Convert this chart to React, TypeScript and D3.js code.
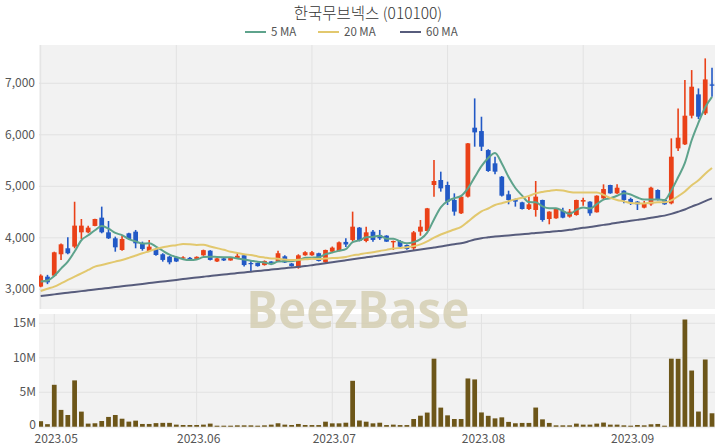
import React from 'react';
import * as d3 from 'd3';

// ---- data ----
const opens = [3052,3245,3265,3680,3796,3828,4106,4106,4230,4391,4106,3990,3763,4087,4119,3893,3744,3783,3680,3634,
  3620,3600,3610,3590,3660,3750,3540,3600,3560,3600,3660,3510,3510,3470,3540,3550,3640,3500,3420,3660,
  3660,3700,3524,3731,3740,3920,3958,4197,3938,4119,4055,4042,3912,3938,3860,3796,4119,4132,5025,5122,
  5025,4734,4475,4799,6138,6073,5704,5446,5187,4844,4754,4689,4559,4540,4734,4365,4378,4520,4411,4443,
  4702,4702,4495,4766,5025,4863,4915,4754,4702,4585,4650,4928,4734,4669,5737,5814,6371,6785,6416,6979];
const highs = [3290,3280,3730,3890,4010,4700,4365,4236,4370,4605,4326,4022,4042,4100,4152,3925,3958,3796,3700,3647,
  3640,3640,3625,3640,3770,3760,3610,3610,3615,3700,3680,3570,3520,3560,3545,3750,3660,3510,3680,3740,
  3745,3710,3770,3830,3930,3990,4508,4210,4216,4152,4152,4050,3945,3958,3870,4132,4346,4580,5510,5284,
  5090,4863,4810,5840,6707,6351,5720,5575,5200,4915,4760,4700,4799,5103,4740,4515,4580,4585,4559,4740,
  4779,4710,4825,5038,5030,5038,4925,4779,4714,4714,4993,4940,4740,5931,6513,7063,7257,6901,7484,7303];
const lows = [3040,3100,3245,3570,3680,3796,3977,4087,4225,4087,3977,3730,3750,3958,3796,3750,3730,3653,3537,3485,
  3530,3590,3560,3580,3650,3560,3530,3550,3555,3595,3440,3340,3440,3460,3470,3540,3510,3440,3400,3650,
  3650,3540,3500,3720,3735,3820,3925,3930,3912,3925,3958,3920,3763,3796,3770,3763,4040,4125,4799,4896,
  4637,4430,4460,4780,5769,5685,5280,5232,4800,4650,4605,4550,4540,4411,4313,4262,4370,4378,4391,4430,
  4624,4430,4490,4754,4855,4850,4669,4637,4540,4572,4624,4725,4640,4650,5685,5801,6319,6306,6384,6740];
const closes = [3265,3135,3718,3873,3699,4236,4236,4197,4365,4106,3990,3815,3977,3977,3893,3783,3828,3666,3570,3524,
  3540,3620,3580,3630,3760,3570,3600,3560,3610,3650,3470,3490,3450,3550,3500,3700,3520,3450,3660,3720,
  3720,3550,3763,3809,3912,3870,4216,3938,4106,3958,3990,3925,3938,3828,3783,4106,4216,4572,5103,4960,
  4702,4508,4799,5834,6047,5769,5297,5284,4818,4734,4702,4559,4650,4799,4346,4508,4572,4391,4508,4734,
  4734,4475,4818,4947,4863,4973,4734,4689,4650,4669,4973,4734,4650,5575,5944,6371,6934,6351,7076,6953];
// volume in millions of shares
const volumes = [0.8,0.37,6.08,2.44,1.7,6.72,2.19,0.45,0.5,0.83,1.42,1.7,1.16,0.74,0.88,0.4,0.4,0.52,0.56,0.56,
  0.3,0.25,0.25,0.25,0.3,0.45,0.15,0.15,0.15,0.2,0.2,0.2,0.15,0.2,0.3,0.5,0.3,0.25,0.4,0.25,
  0.24,0.24,0.73,0.49,0.49,0.58,6.66,0.9,0.73,0.49,0.58,0.24,0.3,0.24,0.24,1.12,1.6,2.05,9.87,2.77,
  1.65,1.12,1.12,7.0,6.86,2.07,1.58,1.21,1.36,0.7,0.5,0.55,0.55,2.78,1.07,0.55,0.2,0.2,0.2,0.45,
  0.3,0.3,0.45,0.6,0.3,0.3,0.2,0.15,0.25,0.2,0.35,0.4,0.15,9.87,9.85,15.55,8.15,2.2,9.75,1.95];
// moving-average values before a full window of closes is available
const ma5Head = [3150, 3170, 3260, 3400];
const ma20Head = [2968,3010,3052,3115,3181,3245,3310,3375,3440,3472,3505,3537,3569,3610,3655,3699,3740,3783,3815];
const ma60Head = [2870,2886,2901,2917,2932,2948,2964,2979,2995,3010,3026,3042,3057,3073,3088,3104,3120,3135,3151,3166,
  3182,3198,3213,3229,3244,3260,3273,3287,3300,3314,3328,3341,3355,3368,3382,3396,3409,3423,3436,3450,
  3468,3487,3506,3525,3544,3563,3582,3601,3620,3639,3658,3677,3696,3715,3734,3753,3772,3791,3810];
const priceTicks = [3000, 4000, 5000, 6000, 7000];
const volumeTicks = [0, 5, 10, 15];
const monthLabels = ['2023.05', '2023.06', '2023.07', '2023.08', '2023.09'];
const monthStartIndex = [2, 23, 43, 65, 87];
const priceGridIndex = [0, 20, 40, 60, 80];
const legendNames = ['5 MA', '20 MA', '60 MA'];

const UP = '#ea4118';
const DOWN = '#2259c6';
const MA_COLORS = ['#5ea38c', '#e2c86e', '#575c7c'];
const VOL = '#6d5619';
const FONT = '"Noto Sans CJK KR", "Noto Sans", sans-serif';

function movingAverage(period: number, head: number[]): number[] {
  return closes.map((_, i) => (i < period - 1 ? head[i] : (d3.mean(closes.slice(i - period + 1, i + 1)) as number)));
}

export default function App() {
  const W = 720, H = 448;
  const left = 39, right = 715;
  const pTop = 45, pBot = 309;
  const vTop = 314, vBot = 428.3;

  const x = d3.scaleLinear().domain([-0.25, 99.44]).range([left, right]);
  const yP = d3.scaleLinear().domain([2617, 7744]).range([pBot, pTop]);
  const yV = d3.scaleLinear().domain([-0.23, 16.35]).range([vBot, vTop]);
  const bw = (x(1) - x(0)) * 0.7;

  const mas = [movingAverage(5, ma5Head), movingAverage(20, ma20Head), movingAverage(60, ma60Head)];
  const line = d3.line<number>().x((_, i) => x(i)).y((d) => yP(d)).curve(d3.curveMonotoneX);
  const fmt = d3.format(',');

  const legendX = [245, 318, 400];

  return (
    <svg width={W} height={H} style={{ position: 'absolute', left: 0, top: 0, display: 'block', background: '#fff' }}
      fontFamily={FONT}>
      <defs>
        <clipPath id="pclip"><rect x={left} y={pTop} width={right - left} height={pBot - pTop} /></clipPath>
        <clipPath id="vclip"><rect x={left} y={vTop} width={right - left} height={vBot - vTop} /></clipPath>
      </defs>
      <text x={368} y={19} textAnchor="middle" fontSize={15.5} fill="#333" fontWeight={300}>한국무브넥스 (010100)</text>
      {legendNames.map((n, k) => (
        <g key={n}>
          <line x1={legendX[k]} x2={legendX[k] + 21} y1={32} y2={32} stroke={MA_COLORS[k]} strokeWidth={2} />
          <text x={legendX[k] + 26} y={36} fontSize={11.5} fill="#555">{n}</text>
        </g>
      ))}

      {/* price panel */}
      <rect x={left} y={pTop} width={right - left} height={pBot - pTop} fill="#f2f2f2" />
      {priceTicks.map((t) => (
        <line key={t} x1={left} x2={right} y1={yP(t)} y2={yP(t)} stroke="#e2e2e2" strokeWidth={1} />
      ))}
      {priceGridIndex.map((i) => (
        <line key={i} x1={x(i)} x2={x(i)} y1={pTop} y2={pBot} stroke="#e2e2e2" strokeWidth={1} />
      ))}
      {priceTicks.map((t) => (
        <text key={t} x={35} y={yP(t) + 4} textAnchor="end" fontSize={12} fill="#555">{fmt(t)}</text>
      ))}
      <g clipPath="url(#pclip)">
        {closes.map((c, i) => {
          const o = opens[i];
          const col = c >= o ? UP : DOWN;
          const top = yP(Math.max(o, c));
          const bot = yP(Math.min(o, c));
          return (
            <g key={i}>
              <line x1={x(i)} x2={x(i)} y1={yP(highs[i])} y2={yP(lows[i])} stroke={col} strokeWidth={1.6} />
              <rect x={x(i) - bw / 2} y={top} width={bw} height={Math.max(1.2, bot - top)} fill={col} />
            </g>
          );
        })}
        {mas.map((m, k) => (
          <path key={k} d={line(m) || ''} fill="none" stroke={MA_COLORS[k]} strokeWidth={2} />
        ))}
      </g>

      {/* volume panel */}
      <rect x={left} y={vTop} width={right - left} height={vBot - vTop} fill="#f2f2f2" />
      {volumeTicks.map((t) => (
        <line key={t} x1={left} x2={right} y1={yV(t)} y2={yV(t)} stroke="#e2e2e2" strokeWidth={1} />
      ))}
      {monthStartIndex.map((i) => (
        <line key={i} x1={x(i)} x2={x(i)} y1={vTop} y2={vBot} stroke="#e2e2e2" strokeWidth={1} />
      ))}
      {volumeTicks.map((t) => (
        <text key={t} x={36} y={yV(t) + (t === 0 ? 2 : 4)} textAnchor="end" fontSize={12} fill="#555">{t === 0 ? '0' : `${t}M`}</text>
      ))}
      <g clipPath="url(#vclip)">
        {volumes.map((v, i) => (
          <rect key={i} x={x(i) - bw / 2} y={yV(v)} width={bw} height={yV(0) - yV(v)} fill={VOL} />
        ))}
      </g>
      {monthStartIndex.map((i, k) => (
        <text key={i} x={x(i) + 2} y={443} textAnchor="middle" fontSize={12} fill="#555">{monthLabels[k]}</text>
      ))}

      {/* watermark */}
      <text x={358} y={328} textAnchor="middle" fontSize={52} fontWeight="bold" fill="#d4cdaf" opacity={0.8}
        fontFamily='"Noto Sans", sans-serif' textLength={223} lengthAdjust="spacingAndGlyphs">BeezBase</text>
    </svg>
  );
}
